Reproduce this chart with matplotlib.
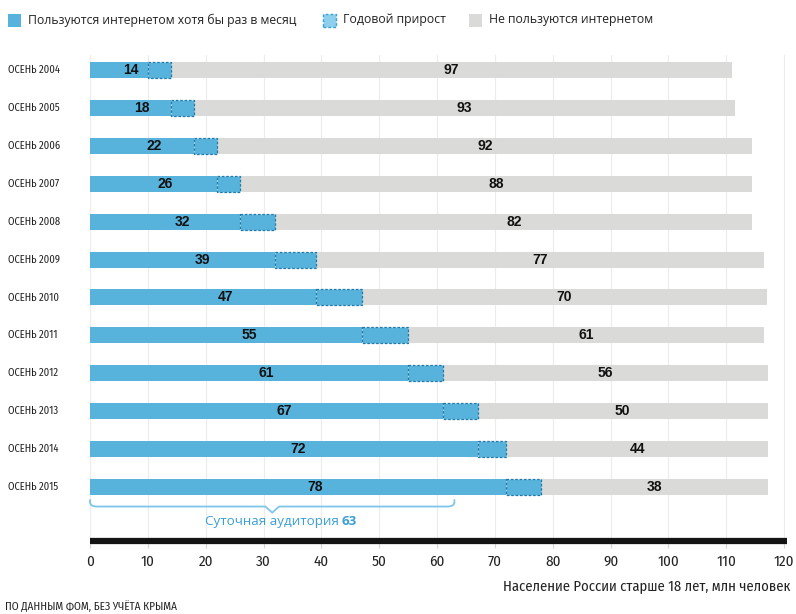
"""
Internet audience in Russia, autumn 2004-2015 (FOM data).
"""

import matplotlib

matplotlib.use("Agg")
import matplotlib.pyplot as plt
from matplotlib import font_manager
from matplotlib.patches import PathPatch, Rectangle
from matplotlib.path import Path
from matplotlib.transforms import blended_transform_factory

years = [
    "ОСЕНЬ 2004", "ОСЕНЬ 2005", "ОСЕНЬ 2006", "ОСЕНЬ 2007",
    "ОСЕНЬ 2008", "ОСЕНЬ 2009", "ОСЕНЬ 2010", "ОСЕНЬ 2011",
    "ОСЕНЬ 2012", "ОСЕНЬ 2013", "ОСЕНЬ 2014", "ОСЕНЬ 2015",
]
users = [14, 18, 22, 26, 32, 39, 47, 55, 61, 67, 72, 78]
prev_users = [10, 14, 18, 22, 26, 32, 39, 47, 55, 61, 67, 72]
non_users = [97, 93, 92, 88, 82, 77, 70, 61, 56, 50, 44, 38]
# adult population as drawn (bar ends)
population = [111, 111.5, 114.5, 114.5, 114.5, 116.5, 117, 116.5, 117.2, 117.2, 117.2, 117.2]
daily_audience = 63
x_ticks = list(range(0, 121, 10))

BLUE = "#58b3dc"
BLUE_EDGE = "#1f78a8"
GREY = "#dadad8"
TEXT = "#222222"

available = {f.name for f in font_manager.fontManager.ttflist}


def pick(*names):
    for name in names:
        if name in available:
            return name
    return "DejaVu Sans"


NARROW = pick("Fira Sans Condensed", "IBM Plex Sans Condensed", "Liberation Sans Narrow")
UI = pick("Open Sans", "Noto Sans")
BOLD = pick("Liberation Sans", "Arimo")

W, H = 796, 614


def px(x, y):
    return x / W, 1 - y / H


fig = plt.figure(figsize=(W / 100, H / 100), dpi=100)
ax = fig.add_axes([90 / W, 1 - 541 / H, 697 / W, 486 / H])

rows = list(range(len(years)))
growth = [u - p for u, p in zip(users, prev_users)]
rest = [t - u for t, u in zip(population, users)]
bar_h = 0.42

ax.barh(rows, prev_users, height=bar_h, color=BLUE, linewidth=0, zorder=2)
ax.barh(rows, growth, left=prev_users, height=bar_h, color=BLUE,
        edgecolor=BLUE_EDGE, linewidth=0.9, linestyle=(0, (2, 1.5)), zorder=3)
ax.barh(rows, rest, left=users, height=bar_h, color=GREY, linewidth=0, zorder=2)

for i in rows:
    ax.text(users[i] / 2, i, str(users[i]), ha="center", va="center",
            fontsize=10, fontweight="bold", family=BOLD, color="#111111", zorder=4)
    ax.text((users[i] + population[i]) / 2, i, str(non_users[i]), ha="center", va="center",
            fontsize=10, fontweight="bold", family=BOLD, color="#111111", zorder=4)

label_tf = blended_transform_factory(fig.transFigure, ax.transData)
for i, name in zip(rows, years):
    ax.text(8 / W, i, name, transform=label_tf, ha="left", va="center",
            fontsize=7.6, family=NARROW, color=TEXT)

# brace under the last bar marking the daily audience
last = rows[-1]
mid = daily_audience / 2
y0, y1, y2 = last + 0.33, last + 0.52, last + 0.68
verts = [
    (0, y0), (0, y1 - 0.12), (0, y1), (1.2, y1),
    (mid - 1.2, y1), (mid, y2), (mid + 1.2, y1),
    (daily_audience - 1.2, y1), (daily_audience, y1), (daily_audience, y1 - 0.12),
    (daily_audience, y0),
]
codes = [
    Path.MOVETO, Path.LINETO, Path.CURVE3, Path.CURVE3,
    Path.LINETO, Path.LINETO, Path.LINETO,
    Path.LINETO, Path.CURVE3, Path.CURVE3,
    Path.LINETO,
]
ax.add_patch(PathPatch(Path(verts, codes), facecolor="none", edgecolor="#7fc6e8",
                       linewidth=1.3, clip_on=False, zorder=3))
t1 = ax.text(19.8, last + 0.92, "Суточная аудитория ", ha="left", va="center",
             fontsize=9.6, family=UI, color="#3a9fd4")
ax.annotate(str(daily_audience), xy=(1, 0), xycoords=t1, ha="left", va="bottom",
            fontsize=9.6, family=UI, fontweight="bold", color="#3a9fd4")

ax.set_xlim(0, 120.5)
ax.set_ylim(last + 1.43, -0.4)
ax.set_yticks([])
ax.set_xticks(x_ticks)
ax.set_xticklabels([str(t) for t in x_ticks], family=NARROW, fontsize=10.8, color=TEXT)
ax.tick_params(axis="x", length=5, width=0.8, color="#d6d6d6", pad=5)
ax.grid(axis="x", color="#ececec", linewidth=0.8)
ax.set_axisbelow(True)
for side in ("left", "top", "right"):
    ax.spines[side].set_visible(False)
ax.spines["bottom"].set_linewidth(4.5)
ax.spines["bottom"].set_color("#141414")
ax.spines["bottom"].set_capstyle("butt")

fig.text(*px(790, 586), "Население России старше 18 лет, млн человек", ha="right", va="center",
         fontsize=10.5, family=NARROW, color=TEXT)
fig.text(*px(5, 606), "ПО ДАННЫМ ФОМ, БЕЗ УЧЁТА КРЫМА", ha="left", va="center",
         fontsize=8, family=NARROW, color=TEXT)

# legend row
legend_items = [
    (8, 28, "Пользуются интернетом хотя бы раз в месяц", dict(facecolor=BLUE, linewidth=0)),
    (323, 343, "Годовой прирост", dict(facecolor="#8dcfec", edgecolor="#3a9fd4",
                                       linewidth=1.0, linestyle=(0, (2, 1.5)))),
    (469, 489, "Не пользуются интернетом", dict(facecolor=GREY, linewidth=0)),
]
for box_x, text_x, label, style in legend_items:
    bx, by = px(box_x, 27)
    fig.add_artist(Rectangle((bx, by), 13 / W, 13 / H, transform=fig.transFigure, **style))
    fig.text(*px(text_x, 20), label, ha="left", va="center", fontsize=8.8, family=UI, color=TEXT)

fig.savefig("out.png", dpi=100)
plt.close(fig)
